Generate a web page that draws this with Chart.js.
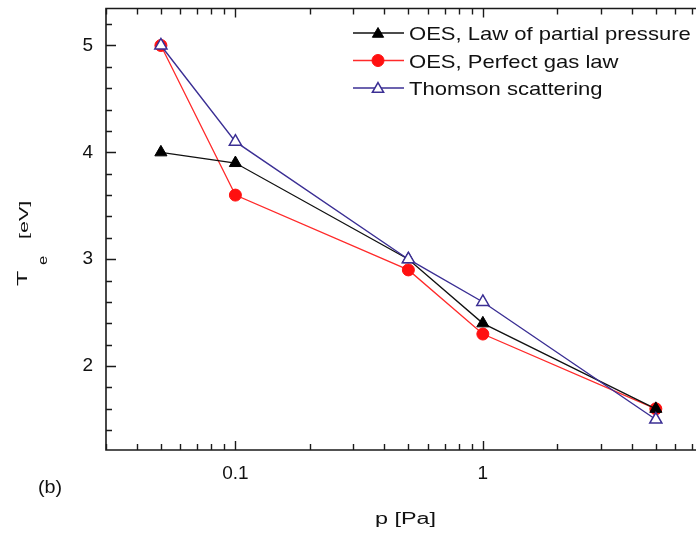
<!DOCTYPE html>
<html>
<head>
<meta charset="utf-8">
<script src="https://cdn.jsdelivr.net/npm/chart.js"></script>
<style>
html, body { margin: 0; padding: 0; background: #fff; overflow: hidden; }
#wrap { width: 705px; height: 536px; position: relative; }
</style>
</head>
<body>
<div id="wrap"><canvas id="myChart"></canvas></div>
<script>
var pressure = [0.05, 0.1, 0.5, 1, 5];
var tePartial = [4.0, 3.9, 3.0, 2.4, 1.6];
var teGas = [5.0, 3.6, 2.9, 2.3, 1.6];
var teThomson = [5.0, 4.1, 3.0, 2.6, 1.5];
var seriesNames = ['OES, Law of partial pressure', 'OES, Perfect gas law', 'Thomson scattering'];
var xTickLabels = [0.1, 1];
var yTickLabels = [2, 3, 4, 5];
var xMinor = [0.03, 0.04, 0.05, 0.06, 0.07, 0.08, 0.09, 0.2, 0.3, 0.4, 0.5, 0.6, 0.7, 0.8, 0.9, 2, 3, 4, 5, 6, 7];
var yMinor = [1.4, 1.6, 1.8, 2.2, 2.4, 2.6, 2.8, 3.2, 3.4, 3.6, 3.8, 4.2, 4.4, 4.6, 4.8, 5.2];

var FONT = '"Liberation Sans", Arial, Helvetica, sans-serif';
var INK = '#111';

function pts(ys) {
    return pressure.map(function (p, i) { return { x: p, y: ys[i] }; });
}

function marker(ctx, style, x, y, r, fill, stroke, lw) {
    ctx.save();
    ctx.beginPath();
    if (style === 'circle') {
        ctx.arc(x, y, r, 0, Math.PI * 2);
    } else {
        var rad = 0;
        ctx.moveTo(x + Math.sin(rad) * r, y - Math.cos(rad) * r);
        rad += 2 * Math.PI / 3;
        ctx.lineTo(x + Math.sin(rad) * r, y - Math.cos(rad) * r);
        rad += 2 * Math.PI / 3;
        ctx.lineTo(x + Math.sin(rad) * r, y - Math.cos(rad) * r);
        ctx.closePath();
    }
    ctx.fillStyle = fill;
    ctx.fill();
    ctx.lineWidth = lw;
    ctx.strokeStyle = stroke;
    ctx.stroke();
    ctx.restore();
}

function stretchText(ctx, text, x, y, size, sx, rotate) {
    ctx.save();
    ctx.translate(x, y);
    if (rotate) ctx.rotate(-Math.PI / 2);
    ctx.scale(sx, 1);
    ctx.font = size + 'px ' + FONT;
    ctx.fillStyle = INK;
    ctx.textAlign = 'left';
    ctx.textBaseline = 'alphabetic';
    ctx.fillText(text, 0, 0);
    ctx.restore();
}

var framePlugin = {
    id: 'frame',
    afterDatasetsDraw: function (chart) {
        var ctx = chart.ctx, a = chart.chartArea;
        var xs = chart.scales.x, ys = chart.scales.y;
        ctx.save();
        ctx.strokeStyle = '#1a1a1a';
        ctx.lineWidth = 1.6;
        ctx.beginPath();
        ctx.moveTo(a.right, a.top); ctx.lineTo(a.left, a.top);
        ctx.lineTo(a.left, a.bottom); ctx.lineTo(a.right, a.bottom);
        ctx.stroke();
        ctx.lineWidth = 1.4;
        ctx.beginPath();
        xMinor.concat(xTickLabels).forEach(function (v) {
            var px = Math.round(xs.getPixelForValue(v)) + 0.5;
            var len = xTickLabels.indexOf(v) >= 0 ? 9 : 6;
            ctx.moveTo(px, a.bottom); ctx.lineTo(px, a.bottom - len);
            ctx.moveTo(px, a.top); ctx.lineTo(px, a.top + len);
        });
        yMinor.concat(yTickLabels).forEach(function (v) {
            var py = Math.round(ys.getPixelForValue(v)) + 0.5;
            var len = yTickLabels.indexOf(v) >= 0 ? 10 : 6;
            ctx.moveTo(a.left, py); ctx.lineTo(a.left + len, py);
        });
        ctx.stroke();
        ctx.restore();
    },
    afterDraw: function (chart) {
        var ctx = chart.ctx;
        // legend
        var rows = [33, 60.5, 88];
        chart.data.datasets.slice().sort(function (p, q) { return p.legendIndex - q.legendIndex; }).forEach(function (ds, i) {
            var y = rows[i];
            ctx.save();
            ctx.strokeStyle = ds.borderColor;
            ctx.lineWidth = 1.4;
            ctx.beginPath();
            ctx.moveTo(353, y); ctx.lineTo(404, y);
            ctx.stroke();
            ctx.restore();
            marker(ctx, ds.pointStyle, 378, ds.pointStyle === 'circle' ? y : y + 1,
                ds.pointStyle === 'circle' ? 6 : 6.5, ds.pointBackgroundColor, ds.pointBorderColor, ds.pointBorderWidth);
            stretchText(ctx, ds.label, 409, y + 7, 19, 1.16, false);
        });
        // axis titles
        stretchText(ctx, 'T', 27, 286, 14, 1.8, true);
        stretchText(ctx, 'e', 47, 265, 12, 1.4, true);
        stretchText(ctx, '[eV]', 28, 239, 13, 1.65, true);
        stretchText(ctx, 'p [Pa]', 375, 524, 16, 1.46, false);
        stretchText(ctx, '(b)', 38, 493, 18, 1.1, false);
    }
};

var ctx = document.getElementById('myChart').getContext('2d');

new Chart(ctx, {
    type: 'line',
    data: {
        datasets: [{
            label: seriesNames[2],
            legendIndex: 2,
            data: pts(teThomson),
            borderColor: '#3b2f94',
            borderWidth: 1.4,
            pointStyle: 'triangle',
            pointRadius: 7,
            pointBackgroundColor: '#ffffff',
            pointBorderColor: '#3b2f94',
            pointBorderWidth: 1.5,
            order: 0
        }, {
            label: seriesNames[0],
            legendIndex: 0,
            data: pts(tePartial),
            borderColor: '#111111',
            borderWidth: 1.3,
            pointStyle: 'triangle',
            pointRadius: 7,
            pointBackgroundColor: '#000000',
            pointBorderColor: '#000000',
            pointBorderWidth: 1,
            order: 1
        }, {
            label: seriesNames[1],
            legendIndex: 1,
            data: pts(teGas),
            borderColor: '#ff2a2a',
            borderWidth: 1.3,
            pointStyle: 'circle',
            pointRadius: 6,
            pointBackgroundColor: '#ff1010',
            pointBorderColor: '#ff1010',
            pointBorderWidth: 1,
            order: 2
        }]
    },
    options: {
        responsive: true,
        maintainAspectRatio: false,
        animation: false,
        devicePixelRatio: 1,
        layout: { padding: { top: 8, right: 2, left: 0, bottom: 0 } },
        plugins: { legend: { display: false }, tooltip: { enabled: false } },
        elements: { line: { tension: 0 } },
        scales: {
            x: {
                type: 'logarithmic',
                min: 0.03,
                max: 7.3,
                grid: { display: false, drawTicks: false },
                border: { display: false },
                afterBuildTicks: function (s) { s.ticks = xTickLabels.map(function (v) { return { value: v }; }); },
                afterFit: function (s) { s.height = 86; s.paddingLeft = 0; s.paddingRight = 0; },
                ticks: {
                    autoSkip: false,
                    maxRotation: 0,
                    padding: 12,
                    color: INK,
                    font: { family: FONT, size: 19 },
                    callback: function (v) { return String(v); }
                }
            },
            y: {
                type: 'linear',
                min: 1.215,
                max: 5.346,
                grid: { display: false, drawTicks: false },
                border: { display: false },
                afterBuildTicks: function (s) { s.ticks = yTickLabels.map(function (v) { return { value: v }; }); },
                afterFit: function (s) { s.width = 106; s.paddingTop = 0; s.paddingBottom = 0; },
                ticks: {
                    padding: 13,
                    color: INK,
                    font: { family: FONT, size: 19 },
                    callback: function (v) { return String(v); }
                }
            }
        }
    },
    plugins: [framePlugin]
});
</script>
</body>
</html>
